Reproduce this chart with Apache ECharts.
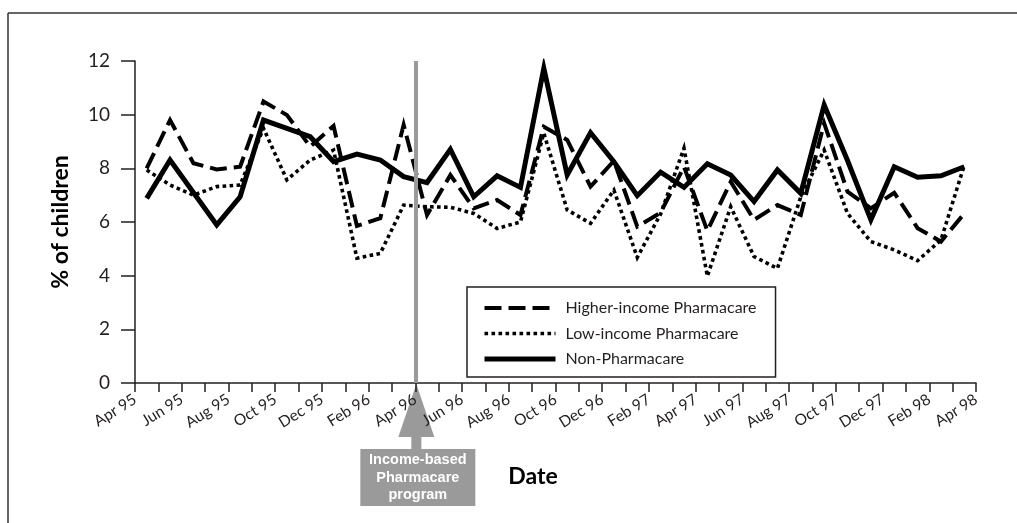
<!DOCTYPE html>
<html>
<head>
<meta charset="utf-8">
<script src="https://cdn.jsdelivr.net/npm/echarts/dist/echarts.min.js"></script>
<style>
  html, body { margin: 0; padding: 0; background: #fff; }
  #chart { width: 1017px; height: 523px; }
</style>
</head>
<body>
<div id="chart"></div>
<script>
// Monthly data points (centred between tick marks)
const months = ['Apr 95','May 95','Jun 95','Jul 95','Aug 95','Sep 95','Oct 95','Nov 95','Dec 95',
  'Jan 96','Feb 96','Mar 96','Apr 96','May 96','Jun 96','Jul 96','Aug 96','Sep 96','Oct 96','Nov 96','Dec 96',
  'Jan 97','Feb 97','Mar 97','Apr 97','May 97','Jun 97','Jul 97','Aug 97','Sep 97','Oct 97','Nov 97','Dec 97',
  'Jan 98','Feb 98','Mar 98'];
// Tick labels on the month boundaries (every other one shown)
const tickLabels = ['Apr 95','May 95','Jun 95','Jul 95','Aug 95','Sep 95','Oct 95','Nov 95','Dec 95',
  'Jan 96','Feb 96','Mar 96','Apr 96','May 96','Jun 96','Jul 96','Aug 96','Sep 96','Oct 96','Nov 96','Dec 96',
  'Jan 97','Feb 97','Mar 97','Apr 97','May 97','Jun 97','Jul 97','Aug 97','Sep 97','Oct 97','Nov 97','Dec 97',
  'Jan 98','Feb 98','Mar 98','Apr 98'];

const higherIncome = [8.0, 9.8, 8.19, 7.96, 8.06, 10.49, 9.99, 8.81, 9.58, 5.85, 6.14, 9.62,
  6.26, 7.75, 6.51, 6.82, 6.26, 9.55, 9.06, 7.32, 8.28, 5.83, 6.35, 8.06,
  5.67, 7.5, 6.08, 6.63, 6.26, 9.68, 7.13, 6.51, 7.09, 5.77, 5.27, 6.32];
const lowIncome = [7.94, 7.38, 7.0, 7.32, 7.38, 9.49, 7.57, 8.31, 8.68, 4.65, 4.83, 6.63,
  6.57, 6.55, 6.32, 5.76, 6.0, 9.31, 6.45, 5.95, 7.19, 4.68, 6.3, 8.75,
  3.98, 6.57, 4.71, 4.27, 6.94, 8.68, 6.32, 5.27, 4.96, 4.56, 5.33, 8.12];
const nonPharmacare = [6.88, 8.31, 7.1, 5.89, 6.94, 9.80, 9.49, 9.18, 8.25, 8.53, 8.31, 7.69,
  7.47, 8.71, 6.94, 7.72, 7.29, 11.73, 7.75, 9.33, 8.25, 6.98, 7.86, 7.29,
  8.17, 7.75, 6.76, 7.94, 7.07, 10.36, 8.29, 6.08, 8.06, 7.67, 7.72, 8.06];

const seriesNames = ['Higher-income Pharmacare', 'Low-income Pharmacare', 'Non-Pharmacare'];
const programMonth = 'Apr 96';
const yTicks = { min: 0, max: 12, interval: 2 };

const ink = '#231f20';
const grey = '#9a9a9a';
const font = 'Lato, "Open Sans", sans-serif';

const styles = [
  { color: '#000', width: 4, type: [17, 7], cap: 'butt', join: 'miter' },
  { color: '#000', width: 3.6, type: [3.6, 3.4], cap: 'butt', join: 'miter' },
  { color: '#000', width: 5, type: 'solid', join: 'miter' }
];

const chart = echarts.init(document.getElementById('chart'), null, { renderer: 'canvas' });

chart.setOption({
  backgroundColor: '#fff',
  animation: false,
  grid: { left: 135, top: 61, right: 41, bottom: 140, containLabel: false },
  legend: {
    data: seriesNames.map((n, i) => ({ name: n, lineStyle: { width: styles[i].width, type: styles[i].type } })),
    orient: 'vertical',
    left: 467, top: 287,
    itemWidth: 71, itemHeight: 14, itemGap: 9.5,
    padding: [13, 19, 10, 15],
    borderColor: ink, borderWidth: 1.5,
    selectedMode: false,
    align: 'left',
    itemStyle: { opacity: 0 },
    textStyle: { fontSize: 16, color: ink, fontFamily: font, padding: [0, 0, 0, 5] }
  },
  xAxis: [
    {
      type: 'category', data: months, boundaryGap: true, position: 'bottom',
      axisLine: { show: false }, axisTick: { show: false }, axisLabel: { show: false },
      splitLine: { show: false }
    },
    {
      type: 'category', data: tickLabels, boundaryGap: false, position: 'bottom',
      axisLine: { show: true, onZero: false, lineStyle: { color: ink, width: 1.5 } },
      axisTick: { show: true, interval: 0, length: 9, lineStyle: { color: ink, width: 1.5 } },
      axisLabel: { interval: 1, rotate: 32, margin: 15, fontSize: 15.5, color: ink, fontFamily: font },
      splitLine: { show: false },
      name: 'Date', nameLocation: 'middle', nameGap: 82,
      nameTextStyle: { fontSize: 23, fontWeight: 'bold', color: '#000', fontFamily: font, padding: [0, 45, 0, 0] }
    }
  ],
  yAxis: {
    type: 'value', min: yTicks.min, max: yTicks.max, interval: yTicks.interval,
    axisLine: { show: true, lineStyle: { color: ink, width: 1.5 } },
    axisTick: { show: true, length: 14, lineStyle: { color: ink, width: 1.5 } },
    axisLabel: { margin: 25, fontSize: 19, color: ink, fontFamily: font },
    splitLine: { show: false },
    name: '% of children', nameLocation: 'middle', nameGap: 63, nameRotate: 90,
    nameTextStyle: { fontSize: 23, fontWeight: 'bold', color: '#000', fontFamily: font }
  },
  series: [
    {
      name: 'program marker', type: 'line', xAxisIndex: 1, data: [], z: 1, silent: true,
      markLine: {
        silent: true, symbol: 'none', label: { show: false },
        lineStyle: { color: grey, width: 4, type: 'solid' },
        data: [[{ coord: [programMonth, yTicks.max] }, { coord: [programMonth, yTicks.min] }]]
      }
    },
    { name: seriesNames[0], type: 'line', xAxisIndex: 0, data: higherIncome, symbol: 'none', z: 3, lineStyle: styles[0] },
    { name: seriesNames[1], type: 'line', xAxisIndex: 0, data: lowIncome, symbol: 'none', z: 3, lineStyle: styles[1] },
    { name: seriesNames[2], type: 'line', xAxisIndex: 0, data: nonPharmacare, symbol: 'none', z: 4, lineStyle: styles[2] }
  ]
});

// Annotation arrow + box anchored to the axis position of the program start
const px = chart.convertToPixel({ xAxisIndex: 1 }, programMonth);
const py0 = chart.convertToPixel({ yAxisIndex: 0 }, yTicks.min);

chart.setOption({
  graphic: [
    { type: 'line', shape: { x1: 8, y1: 13, x2: 1017, y2: 13 }, style: { stroke: '#333', lineWidth: 1.5 } },
    { type: 'line', shape: { x1: 8, y1: 13, x2: 8, y2: 523 }, style: { stroke: '#333', lineWidth: 1.5 } },
    { type: 'polygon', shape: { points: [[px + 1, py0 + 1], [px - 17, py0 + 54], [px + 19, py0 + 54]] }, style: { fill: grey } },
    { type: 'rect', shape: { x: px - 4, y: py0 + 53, width: 10, height: 14 }, style: { fill: grey } },
    { type: 'rect', shape: { x: px - 55, y: py0 + 66, width: 115, height: 57 }, style: { fill: grey } },
    {
      type: 'text', x: px + 2.5, y: py0 + 94.5,
      style: {
        text: 'Income-based\nPharmacare\nprogram', fill: '#fff', align: 'center', verticalAlign: 'middle',
        font: 'bold 14.5px "Liberation Sans", Arial, sans-serif', lineHeight: 17.5
      }
    }
  ]
});
</script>
</body>
</html>
